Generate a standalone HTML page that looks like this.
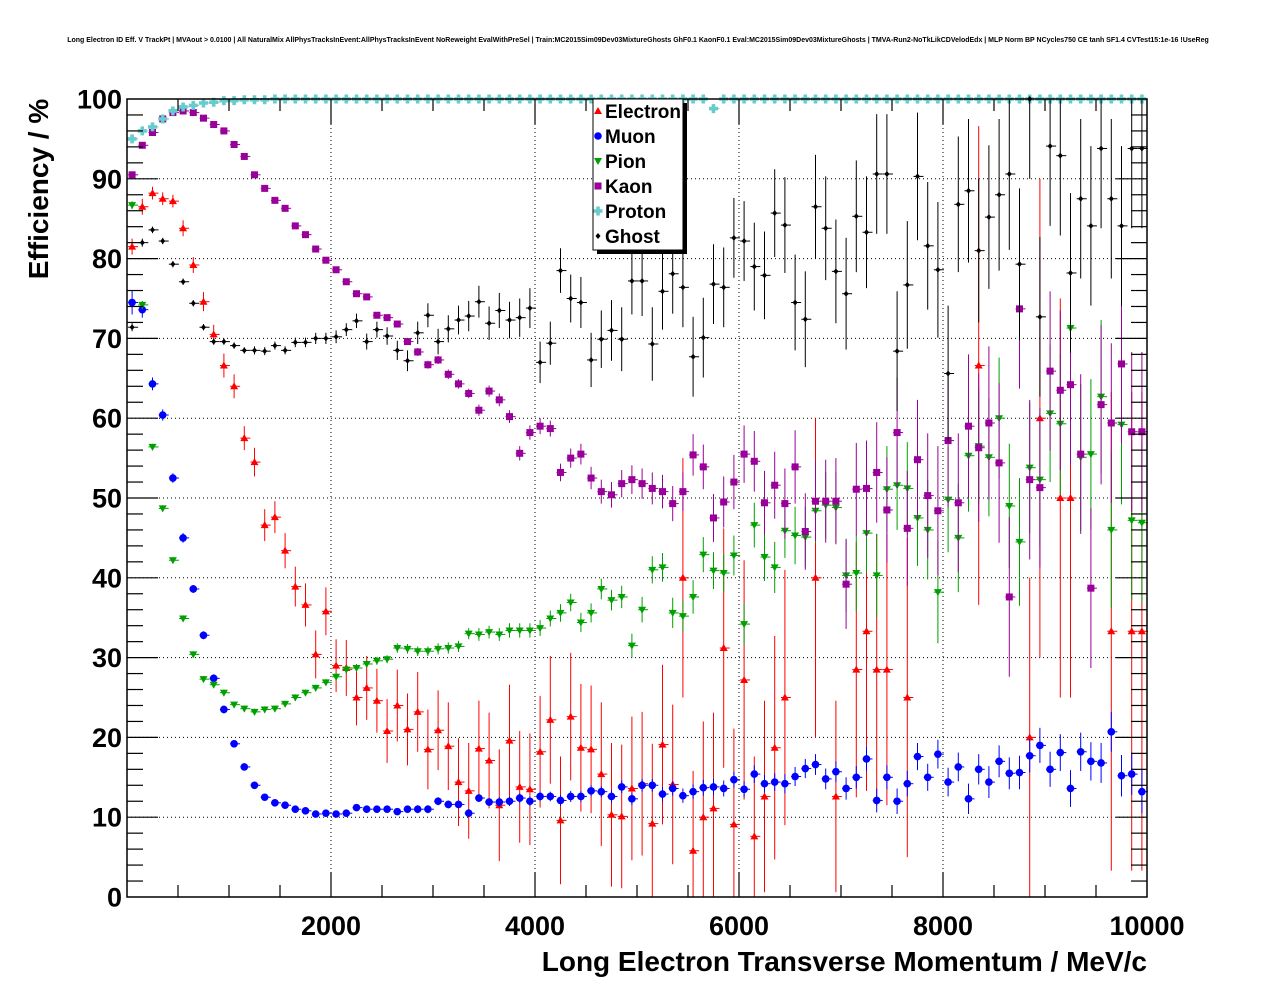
<!DOCTYPE html>
<html><head><meta charset="utf-8"><style>
body{margin:0;background:#fff;}
svg text{font-family:"Liberation Sans",Arial,sans-serif;}
</style></head><body>
<svg id="chart" width="1276" height="996" xmlns="http://www.w3.org/2000/svg">
<rect width="1276" height="996" fill="#fff"/>
<text x="638" y="42" font-size="7" font-weight="bold" text-anchor="middle">Long Electron ID Eff. V TrackPt | MVAout &gt; 0.0100 | All NaturalMix AllPhysTracksInEvent:AllPhysTracksInEvent NoReweight EvalWithPreSel | Train:MC2015Sim09Dev03MixtureGhosts GhF0.1 KaonF0.1 Eval:MC2015Sim09Dev03MixtureGhosts | TMVA-Run2-NoTkLikCDVelodEdx | MLP Norm BP NCycles750 CE tanh SF1.4 CVTest15:1e-16 !UseReg</text>
<g id="grid"></g>
<g id="marks"></g>
<g id="axes"></g>
<text transform="translate(48,189) rotate(-90)" font-size="28" font-weight="bold" text-anchor="middle">Efficiency / %</text>
<text x="1147" y="971" font-size="28" font-weight="bold" text-anchor="end">Long Electron Transverse Momentum / MeV/c</text>
<g id="legend"></g>
</svg>
<script>
const xTicks=[2000,4000,6000,8000,10000];
const yTicks=[0,10,20,30,40,50,60,70,80,90,100];
const seriesNames=["Electron","Muon","Pion","Kaon","Proton","Ghost"];
const electron=[81.5,86.5,88.2,87.5,87.2,83.8,79.2,74.6,70.5,66.6,64,57.5,54.5,46.6,47.6,43.4,38.9,36.6,30.4,35.8,29.0,28.7,25.0,26.2,24.6,20.8,24.0,21.0,23.2,18.5,20.9,18.9,14.4,13.3,18.6,17.1,11.5,19.6,13.8,13.5,18.2,22.2,9.6,22.6,18.7,18.5,15.4,10.3,10.1,13.6,14.2,9.2,19.1,14.1,40.0,5.8,10.0,11.1,31.2,9.1,27.2,7.6,12.6,18.7,25.0,null,null,40.0,null,12.6,null,28.5,33.3,28.5,28.5,null,25.0,null,null,null,null,null,null,66.6,null,null,null,null,20.0,60.0,null,50.0,50.0,null,null,null,33.3,null,33.3,33.3];
const electronErr=[1,1,0.8,0.8,0.8,1,1,1.2,1.2,1.5,1.5,1.5,1.8,2,2,2.2,2.5,2.7,3,3,3.3,3.5,3.5,4,4,4,4.5,4.5,5,5,5,5.5,5.5,6,6,6,7,7,7,7,7,8,8,8,8,8,9,9,9,9,9,10,10,10,15,10,12,12,15,12,15,10,12,14,16,0,0,20,0,12,0,16,20,17,17,0,20,0,0,0,0,0,0,30,0,0,0,0,20,30,0,25,25,0,0,0,30,0,30,30];
const muon=[74.5,73.6,64.3,60.4,52.5,45,38.6,32.8,27.4,23.5,19.2,16.3,14,12.5,11.8,11.5,11,10.8,10.4,10.5,10.4,10.5,11.2,11,11,11,10.7,11,11,11,12,11.6,11.6,10.5,12.4,11.9,11.9,12,12.4,12,12.6,12.6,12.1,12.6,12.6,13.3,13.2,12.6,13.8,12.3,14,14,12.9,13.6,12.7,13.2,13.7,13.8,13.6,14.7,13.5,15.4,14.2,14.4,14.2,15.1,16.1,16.6,14.8,15.7,13.6,15,17.3,12.1,15,12,14.2,17.6,15,17.9,14.4,16.3,12.3,16,14.4,17,15.5,15.6,17.7,19,16,18.1,13.6,18.2,17,16.8,20.7,15.2,15.4,13.2];
const muonErr=[1.5,1,0.8,0.7,0.6,0.6,0.5,0.5,0.5,0.5,0.4,0.4,0.4,0.4,0.4,0.4,0.4,0.4,0.4,0.4,0.4,0.4,0.4,0.4,0.4,0.4,0.4,0.4,0.5,0.5,0.5,0.5,0.5,0.5,0.5,0.5,0.6,0.6,0.6,0.6,0.6,0.6,0.7,0.7,0.7,0.7,0.7,0.8,0.8,0.8,0.8,0.8,0.9,0.9,0.9,0.9,1,1,1,1,1,1.1,1.1,1.1,1.2,1.2,1.2,1.3,1.3,1.3,1.4,1.4,1.5,1.5,1.5,1.6,1.6,1.7,1.7,1.8,1.8,1.8,1.9,1.9,2,2,2,2.1,2.1,2.2,2.2,2.3,2.3,2.4,2.4,2.5,2.5,2.6,2.6,2.7];
const pion=[86.7,74.2,56.4,48.7,42.2,34.9,30.4,27.3,26.6,25.6,24.1,23.6,23.2,23.5,23.6,24.2,25,25.6,26.2,26.9,27.6,28.5,28.7,29.2,29.6,29.8,31.2,31.1,30.8,30.8,31.1,31.2,31.4,33.0,32.9,33.2,32.9,33.4,33.4,33.4,33.7,34.9,35.6,36.9,34.4,35.6,38.6,37.2,37.6,31.5,36.0,41.0,41.3,35.6,35.2,37.6,42.9,40.9,40.6,42.8,34.2,46.6,42.6,41.3,45.9,45.3,45.1,48.4,49.1,48.8,40.3,40.6,45.6,40.3,51.1,51.6,51.2,47.5,46.0,38.2,49.8,45.0,55.3,56.5,55.1,60.0,49.0,44.5,53.8,52.3,60.6,59.3,71.3,55.1,55.5,62.7,46.0,59.2,47.2,46.9];
const pionErr=[0.5,0.5,0.4,0.4,0.4,0.4,0.4,0.4,0.4,0.4,0.4,0.4,0.4,0.4,0.4,0.4,0.4,0.4,0.4,0.4,0.5,0.5,0.5,0.5,0.5,0.5,0.6,0.6,0.6,0.6,0.7,0.7,0.7,0.7,0.8,0.8,0.8,0.9,0.9,0.9,1,1,1.1,1.1,1.2,1.2,1.3,1.3,1.4,1.5,1.6,1.7,1.8,1.9,2,2.1,2.2,2.3,2.4,2.5,2.6,2.8,3,3.2,3.4,3.6,3.8,4,4.2,4.4,4.6,4.8,5,5.2,5.4,5.6,5.8,6,6.2,6.4,6.6,6.8,7,7.2,7.4,7.6,7.8,8,8.2,8.4,8.6,8.8,9,9.2,9.4,9.6,9.8,10,10,10];
const kaon=[90.5,94.2,95.8,97.5,98.3,98.5,98.3,97.6,96.8,96.0,94.3,92.8,90.5,88.8,87.3,86.3,84.1,83.0,81.2,79.8,78.6,77.1,75.6,75.2,72.9,72.6,71.8,69.6,68.3,66.7,67.3,65.5,64.3,63.1,61.0,63.4,62.3,60.2,55.6,58.2,59.0,58.7,53.2,55.0,55.5,52.5,50.8,50.4,51.8,52.3,51.8,51.2,50.8,49.3,50.8,55.4,53.9,47.5,49.5,52.0,55.5,54.6,49.4,51.6,49.3,53.9,45.8,49.6,49.6,49.6,39.2,51.1,51.2,53.2,48.5,58.2,46.2,54.8,50.3,48.4,57.2,49.4,59.0,56.3,59.4,54.4,37.6,73.7,52.3,51.3,65.9,63.5,64.2,55.5,38.7,61.7,59.4,66.8,58.3,58.3];
const kaonErr=[0.4,0.3,0.3,0.2,0.2,0.2,0.2,0.2,0.2,0.2,0.2,0.2,0.2,0.2,0.2,0.2,0.2,0.2,0.3,0.3,0.3,0.3,0.3,0.3,0.4,0.4,0.4,0.4,0.5,0.5,0.5,0.6,0.6,0.6,0.7,0.7,0.8,0.8,0.9,0.9,1,1,1.1,1.2,1.3,1.4,1.5,1.6,1.7,1.8,1.9,2,2.1,2.2,2.4,2.6,2.8,3,3.2,3.4,3.6,3.8,4,4.2,4.4,4.6,4.8,5,5.2,5.4,5.6,5.8,6,6.3,6.6,6.9,7.2,7.5,7.8,8.1,8.4,8.7,9,9.3,9.6,10,10,10,10,10,10,10,10,10,10,10,10,10,10,10];
const proton=[95,96,96.5,97.5,98.5,99,99.2,99.5,99.6,99.8,99.8,99.9,99.9,99.9,100,100,100,100,100,100,100,100,100,100,100,100,100,100,100,100,100,100,100,100,100,100,100,100,100,100,100,100,100,100,100,100,100,100,100,100,100,100,100,100,100,100,100,98.8,100,100,100,100,100,100,100,100,100,100,100,100,100,100,100,100,100,100,100,100,100,100,100,100,100,100,100,100,100,100,100,100,100,100,100,100,100,100,100,100,100,100];
const ghost=[71.4,82.0,83.6,82.2,79.3,77.1,74.4,71.4,69.6,69.6,69.1,68.5,68.5,68.4,69.1,68.5,69.5,69.5,70.0,70.0,70.2,71.1,72.2,69.6,71.1,70.3,68.5,67.2,70.7,72.9,69.6,71.2,72.3,72.8,74.6,71.9,73.5,72.3,72.6,73.8,67.0,69.4,78.5,75.0,74.5,67.3,69.9,71.0,69.9,77.2,77.2,69.3,75.9,78.1,76.4,67.7,70.1,76.8,76.4,82.6,82.2,79.0,77.9,85.7,84.2,74.5,72.4,86.5,83.8,78.4,75.6,85.3,83.3,90.6,90.6,68.4,76.7,90.3,81.6,78.6,65.6,86.8,88.5,81.0,85.2,88.0,90.6,79.3,100,72.7,94.1,92.9,78.2,87.5,84.1,93.8,87.5,84.1,93.8,93.8];
const ghostErr=[0.5,0.5,0.4,0.4,0.4,0.4,0.4,0.4,0.4,0.4,0.4,0.4,0.5,0.5,0.5,0.5,0.6,0.6,0.7,0.7,0.8,0.8,0.9,1,1,1.1,1.2,1.3,1.4,1.5,1.6,1.7,1.8,1.9,2,2.1,2.2,2.3,2.4,2.5,2.6,2.7,2.8,3,3.2,3.4,3.6,3.8,4,4.2,4.4,4.6,4.8,5,5,5,5,5,5,5,5,5.5,5.5,5.5,6,6,6,6.5,6.5,6.5,7,7,7,7.5,7.5,7.5,8,8,8,8.5,8.5,8.5,9,9,9,9.5,9.5,9.5,10,10,10,10,10,10,10,10,10,10,10,10];

const NS="http://www.w3.org/2000/svg";
const X0=127,X1=1147,Y0=897,Y1=99;
const xs=v=>X0+(v/10000)*(X1-X0);
const ys=v=>Y0-(v/100)*(Y0-Y1);
const binCenter=i=>i*100+50;
function mk(tag,attrs,parent){const e=document.createElementNS(NS,tag);for(const k in attrs)e.setAttribute(k,attrs[k]);parent.appendChild(e);return e;}
const grid=document.getElementById('grid'),axes=document.getElementById('axes'),marks=document.getElementById('marks'),legend=document.getElementById('legend');
xTicks.slice(0,-1).forEach(t=>{const l=mk('line',{x1:xs(t),x2:xs(t),y1:Y0,y2:Y1,stroke:'#000','stroke-width':1,'stroke-dasharray':'1,3'},grid);

});
yTicks.slice(1,-1).forEach(t=>{const l=mk('line',{x1:X0,x2:X1,y1:ys(t),y2:ys(t),stroke:'#000','stroke-width':1,'stroke-dasharray':'1,3'},grid);

});
mk('rect',{x:X0,y:Y1,width:X1-X0,height:Y0-Y1,fill:'none',stroke:'#000','stroke-width':1.5},axes);
for(let v=500;v<10000;v+=500){const maj=v%2000===0,len=maj?25:12;
mk('line',{x1:xs(v),x2:xs(v),y1:Y0,y2:Y0-len,stroke:'#000','stroke-width':1.2},axes);
mk('line',{x1:xs(v),x2:xs(v),y1:Y1,y2:Y1+len,stroke:'#000','stroke-width':1.2},axes);}
for(let v=2;v<100;v+=2){const maj=v%10===0,len=maj?31:16;
mk('line',{x1:X0,x2:X0+len,y1:ys(v),y2:ys(v),stroke:'#000','stroke-width':1.2},axes);
mk('line',{x1:X1,x2:X1-len,y1:ys(v),y2:ys(v),stroke:'#000','stroke-width':1.2},axes);}
xTicks.forEach(t=>{const e=mk('text',{x:xs(t),y:935,'font-size':27,'font-weight':'bold','text-anchor':'middle'},axes);e.textContent=t;

});
yTicks.forEach(t=>{const e=mk('text',{x:122,y:ys(t)+9.5,'font-size':27,'font-weight':'bold','text-anchor':'end'},axes);e.textContent=t;

});

function marker(kind,cx,cy,color,p){
 if(kind==='up')return mk('polygon',{points:`${cx},${cy-4} ${cx-4},${cy+3} ${cx+4},${cy+3}`,fill:color},p);
 if(kind==='down')return mk('polygon',{points:`${cx},${cy+4} ${cx-4},${cy-3} ${cx+4},${cy-3}`,fill:color},p);
 if(kind==='circle')return mk('circle',{cx,cy,r:3.8,fill:color},p);
 if(kind==='square')return mk('rect',{x:cx-3.5,y:cy-3.5,width:7,height:7,fill:color},p);
 if(kind==='plus')return mk('path',{d:`M${cx-1.8},${cy-4.5}h3.6v2.7h2.7v3.6h-2.7v2.7h-3.6v-2.7h-2.7v-3.6h2.7z`,fill:color},p);
 return mk('polygon',{points:`${cx},${cy-3} ${cx-2.5},${cy} ${cx},${cy+3} ${cx+2.5},${cy}`,fill:color},p);
}
const series=[
 {vals:electron,err:electronErr,color:'#ff0000',kind:'up'},
 {vals:muon,err:muonErr,color:'#0000ff',kind:'circle'},
 {vals:pion,err:pionErr,color:'#00a000',kind:'down'},
 {vals:kaon,err:kaonErr,color:'#990099',kind:'square'},
 {vals:proton,err:null,color:'#66cccc',kind:'plus'},
 {vals:ghost,err:ghostErr,color:'#000000',kind:'diamond'}];
series.forEach((s,si)=>{const g=mk('g',{},marks);
 
 
 s.vals.forEach((v,i)=>{if(v===null||v===undefined)return;
  const cx=xs(binCenter(i)),cy=ys(Math.min(v,100));
  const e=s.err?s.err[i]:0.1;
  if(e>0){mk('line',{x1:cx,x2:cx,y1:ys(Math.max(0,v-e)),y2:ys(Math.min(100,v+e)),stroke:s.color,'stroke-width':1},g);}
  mk('line',{x1:cx-4,x2:cx+6,y1:cy,y2:cy,stroke:s.color,'stroke-width':1},g);
  const m=marker(s.kind,cx,cy,s.color,g);
  
  
 });});
mk('rect',{x:597,y:103,width:90,height:151,fill:'#000'},legend);
mk('rect',{x:593,y:99,width:90,height:151,fill:'#fff',stroke:'#000','stroke-width':1},legend);
series.forEach((s,i)=>{const y=111+i*25;
 const m=marker(s.kind,598,y,s.color,legend);
 
 
 const t=mk('text',{x:605,y:y+7,'font-size':19,'font-weight':'bold'},legend);t.textContent=seriesNames[i];
 
 });
</script>
</body></html>
